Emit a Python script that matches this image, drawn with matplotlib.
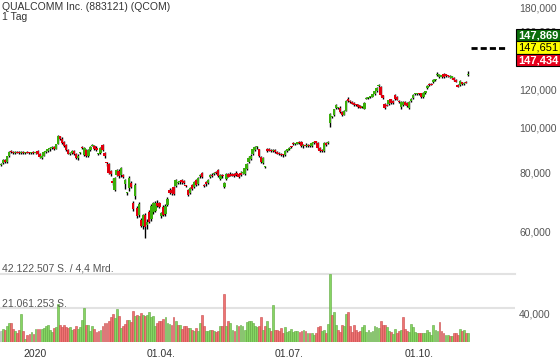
import matplotlib.pyplot as plt
import numpy as np
from matplotlib.patches import Rectangle

# QUALCOMM daily candles, Dec 2019 - Nov 2020 (price in USD, volume in million shares)
opens = [
    83.0, 83.8, 85.0, 84.2, 86.6, 88.8, 88.4, 88.0, 88.4, 88.2,
    88.0, 88.3, 88.1, 88.3, 88.2, 88.0, 88.2, 88.2, 88.9, 87.7,
    86.0, 86.9, 88.6, 89.0, 89.6, 90.1, 90.6, 90.0, 92.0, 95.5,
    94.5, 93.0, 91.4, 89.4, 87.8, 87.9, 88.8, 87.6, 85.8, 87.9,
    90.5, 87.3, 89.4, 86.8, 89.2, 91.3, 90.9, 90.4, 87.6, 88.0,
    91.4, 88.0, 84.0, 83.6, 80.8, 76.8, 73.6, 79.0, 80.8, 79.0,
    79.0, 75.6, 72.4, 74.0, 76.0, 69.0, 71.2, 67.2, 65.0, 63.4,
    61.6, 65.0, 61.8, 65.8, 63.6, 66.0, 66.3, 69.0, 68.9, 64.7,
    67.6, 65.2, 68.2, 73.4, 73.6, 74.5, 74.9, 76.0, 76.4, 77.0,
    76.6, 75.0, 73.4, 72.4, 75.3, 74.4, 77.1, 75.8, 78.6, 79.8,
    75.3, 76.4, 76.0, 78.3, 79.0, 79.4, 80.2, 81.0, 77.5, 78.6,
    74.6, 77.5, 79.6, 79.4, 79.6, 79.4, 79.8, 79.4, 80.0, 79.8,
    79.6, 81.4, 84.4, 85.6, 87.4, 89.4, 90.6, 89.6, 86.4, 84.0,
    82.2, 89.8, 89.6, 89.4, 89.0, 89.3, 88.4, 87.8, 87.4, 87.2,
    87.0, 88.9, 89.6, 90.8, 92.4, 91.8, 92.2, 93.0, 92.8, 91.0,
    91.6, 91.2, 91.6, 91.0, 92.6, 93.2, 92.6, 90.4, 89.4, 89.0,
    92.4, 92.6, 102.0, 105.0, 106.2, 109.8, 110.0, 109.8, 107.6, 106.2,
    108.2, 115.0, 113.6, 113.0, 112.4, 111.8, 111.4, 110.8, 110.2, 109.4,
    115.0, 115.4, 115.6, 116.0, 117.6, 119.4, 122.0, 121.6, 116.8, 111.8,
    111.4, 112.0, 114.6, 113.8, 117.0, 115.8, 113.6, 110.2, 111.4, 113.0,
    112.4, 110.0, 113.4, 115.2, 117.4, 117.6, 117.8, 118.0, 115.8, 118.0,
    120.8, 123.6, 123.4, 124.4, 125.8, 129.0, 127.8, 128.0, 129.8, 129.4,
    128.4, 128.6, 127.2, 127.4, 126.0, 123.0, 122.6, 124.6, 123.6, 124.6,
    129.0,
]
highs = [
    84.0, 85.3, 85.4, 86.9, 88.7, 89.4, 89.0, 88.9, 89.1, 88.7,
    88.8, 88.8, 88.6, 88.9, 88.6, 88.5, 88.7, 88.9, 89.3, 87.9,
    87.3, 89.0, 89.4, 90.0, 90.6, 91.0, 91.0, 92.2, 96.2, 95.9,
    95.0, 93.5, 91.8, 89.8, 88.4, 89.2, 89.2, 88.0, 87.4, 88.3,
    90.9, 90.6, 89.9, 89.6, 90.9, 91.9, 91.4, 90.9, 88.0, 90.6,
    92.0, 88.3, 84.4, 84.0, 81.2, 77.8, 78.2, 81.6, 81.5, 82.4,
    79.6, 77.5, 72.8, 78.6, 76.8, 69.6, 76.0, 68.0, 69.2, 64.0,
    65.4, 65.6, 63.6, 66.5, 68.6, 69.4, 69.5, 70.0, 69.3, 66.0,
    68.2, 68.6, 71.0, 74.0, 74.2, 75.0, 77.6, 76.4, 77.2, 77.6,
    77.1, 75.4, 73.9, 74.4, 75.8, 76.8, 77.5, 78.3, 79.4, 80.4,
    75.6, 76.9, 77.4, 79.6, 79.8, 80.4, 80.6, 81.6, 79.6, 79.4,
    76.4, 79.8, 80.0, 80.2, 80.0, 79.8, 80.6, 79.9, 80.8, 80.2,
    82.0, 84.0, 86.6, 87.4, 90.0, 91.3, 91.3, 90.0, 86.8, 86.4,
    82.6, 90.2, 90.4, 90.0, 89.8, 89.8, 88.9, 88.6, 88.0, 87.8,
    89.2, 90.0, 90.8, 91.0, 92.9, 92.6, 93.1, 93.4, 93.3, 92.0,
    92.4, 92.0, 92.2, 93.0, 93.6, 93.5, 93.0, 90.8, 89.8, 92.8,
    93.0, 93.4, 107.0, 105.6, 109.4, 112.2, 110.4, 110.6, 108.0, 108.8,
    114.4, 115.6, 113.9, 113.6, 112.8, 112.2, 111.8, 111.2, 110.8, 112.8,
    115.6, 115.8, 116.2, 117.8, 119.6, 121.6, 123.2, 122.0, 117.2, 112.4,
    111.8, 114.4, 115.0, 114.2, 117.6, 116.4, 114.2, 113.6, 113.4, 113.6,
    112.8, 113.6, 115.2, 117.6, 117.9, 118.2, 118.4, 118.4, 118.8, 119.6,
    122.6, 124.0, 124.0, 126.4, 126.8, 131.0, 129.4, 129.2, 130.6, 129.8,
    129.0, 129.2, 128.6, 127.8, 126.4, 123.4, 126.0, 125.0, 124.8, 125.2,
    131.4,
]
lows = [
    82.6, 83.5, 83.8, 84.0, 86.3, 88.0, 87.7, 87.6, 87.9, 87.4,
    87.6, 87.8, 87.6, 87.9, 87.7, 87.6, 87.8, 87.8, 87.5, 86.0,
    85.4, 86.6, 88.0, 88.5, 89.0, 89.6, 89.5, 89.8, 91.8, 93.9,
    92.2, 90.5, 89.0, 87.4, 87.2, 87.5, 87.3, 85.6, 85.2, 87.5,
    89.9, 86.9, 86.4, 86.3, 88.8, 90.9, 89.5, 89.0, 87.2, 87.6,
    89.0, 86.0, 82.6, 79.6, 78.8, 75.4, 73.0, 78.6, 77.8, 78.3,
    77.9, 73.8, 71.8, 73.2, 74.0, 66.2, 70.4, 64.0, 64.4, 61.2,
    60.6, 58.0, 60.6, 62.4, 63.0, 65.2, 65.8, 67.6, 67.4, 64.0,
    64.6, 64.7, 67.8, 72.0, 71.6, 71.5, 74.5, 75.6, 75.6, 75.8,
    75.8, 74.6, 71.3, 71.9, 73.4, 74.0, 75.0, 75.4, 78.0, 78.0,
    74.6, 75.0, 75.6, 77.8, 78.2, 79.0, 79.4, 78.4, 77.0, 78.0,
    74.1, 77.0, 78.2, 78.5, 78.6, 78.2, 78.6, 78.0, 78.8, 79.4,
    79.2, 81.0, 84.0, 85.2, 87.0, 89.0, 90.0, 86.4, 84.0, 83.6,
    81.8, 88.6, 88.8, 88.6, 88.4, 88.0, 87.4, 87.0, 86.8, 86.2,
    86.8, 88.6, 89.2, 90.2, 91.6, 91.4, 91.8, 92.2, 90.6, 90.4,
    90.6, 90.8, 90.6, 90.8, 92.0, 92.0, 90.0, 88.6, 88.6, 88.6,
    91.2, 92.2, 100.2, 104.6, 105.8, 109.4, 109.4, 107.2, 105.8, 106.0,
    108.0, 113.2, 112.6, 112.0, 111.0, 110.8, 110.0, 109.6, 109.6, 109.0,
    114.6, 114.8, 115.2, 115.6, 117.2, 119.0, 121.6, 116.6, 115.0, 109.4,
    110.6, 111.6, 112.0, 112.2, 114.4, 114.0, 112.6, 109.2, 110.8, 111.2,
    110.2, 109.4, 113.0, 114.8, 116.9, 117.2, 117.2, 115.4, 115.4, 117.6,
    120.4, 122.4, 122.6, 124.0, 125.2, 128.6, 127.4, 127.4, 127.4, 127.8,
    127.6, 127.4, 126.8, 125.4, 124.6, 121.4, 122.0, 123.0, 122.6, 123.8,
    128.6,
]
closes = [
    83.6, 85.0, 84.2, 86.6, 88.4, 88.3, 88.1, 88.4, 88.2, 88.0,
    88.3, 88.1, 88.3, 88.2, 88.0, 88.2, 88.1, 88.6, 87.7, 86.4,
    86.9, 88.6, 89.0, 89.6, 90.1, 90.6, 89.9, 91.9, 95.6, 94.4,
    92.6, 91.2, 89.4, 87.8, 87.9, 88.9, 87.6, 86.0, 86.9, 88.0,
    90.2, 90.2, 86.8, 89.2, 90.6, 91.5, 89.8, 89.4, 87.7, 90.2,
    89.3, 86.6, 83.8, 80.0, 79.4, 76.0, 77.7, 81.2, 78.6, 81.8,
    78.3, 77.1, 72.5, 78.0, 74.5, 66.9, 75.4, 64.5, 68.6, 61.6,
    65.0, 61.4, 62.8, 62.8, 68.0, 68.8, 69.0, 67.8, 67.7, 65.6,
    65.0, 68.0, 70.4, 72.5, 72.2, 71.9, 77.1, 76.0, 76.8, 76.2,
    76.0, 74.9, 71.7, 74.0, 73.8, 76.2, 75.3, 77.9, 78.7, 78.3,
    75.0, 75.6, 77.1, 79.2, 78.5, 80.0, 79.8, 78.7, 79.0, 78.5,
    76.0, 79.4, 78.4, 78.7, 78.8, 78.5, 78.9, 78.4, 79.2, 79.8,
    81.8, 83.6, 86.0, 86.9, 89.6, 90.8, 91.0, 86.8, 84.4, 86.0,
    82.4, 88.9, 89.1, 88.8, 89.3, 88.4, 87.8, 87.4, 87.2, 87.0,
    88.9, 89.6, 90.4, 90.6, 91.8, 92.4, 92.8, 92.6, 91.0, 91.6,
    91.2, 91.6, 91.0, 92.6, 93.0, 92.4, 90.3, 89.0, 89.0, 92.4,
    91.5, 93.0, 106.4, 105.0, 109.0, 111.4, 110.2, 107.6, 106.2, 108.4,
    113.8, 113.6, 112.8, 112.2, 111.4, 111.2, 110.4, 110.0, 110.4, 112.4,
    115.2, 115.6, 115.8, 117.4, 119.2, 121.2, 122.2, 117.0, 115.4, 109.8,
    111.0, 114.0, 112.4, 112.6, 114.8, 114.4, 113.0, 113.2, 112.8, 111.6,
    110.6, 113.2, 114.8, 117.2, 117.5, 117.8, 117.6, 115.8, 118.4, 119.2,
    122.2, 122.8, 123.0, 126.0, 126.2, 129.2, 129.0, 128.8, 127.8, 128.2,
    128.2, 127.6, 128.2, 125.8, 125.0, 121.6, 125.6, 123.4, 124.2, 124.0,
    129.2,
]
volumes = [
    6.6, 8.3, 7.6, 9.7, 11.8, 11.8, 8.3, 6.6, 5.6, 7.6,
    17.3, 7.0, 2.1, 4.5, 5.0, 6.2, 5.0, 8.3, 8.3, 8.3,
    8.3, 8.7, 9.7, 10.3, 7.6, 6.2, 8.7, 9.1, 23.5, 10.7,
    9.1, 10.7, 9.1, 8.7, 9.1, 7.6, 8.3, 9.7, 8.3, 9.1,
    13.8, 21.1, 10.7, 10.3, 7.0, 9.7, 8.3, 6.2, 6.6, 7.6,
    9.7, 11.8, 11.8, 13.2, 15.3, 17.3, 14.9, 20.6, 15.9, 8.7,
    9.7, 11.2, 13.8, 13.8, 12.4, 19.4, 15.9, 16.9, 15.9, 18.0,
    16.9, 15.9, 16.5, 18.6, 15.3, 15.9, 9.7, 11.8, 13.2, 13.2,
    14.2, 15.3, 11.8, 11.2, 10.3, 15.3, 12.8, 10.3, 10.7, 8.3,
    9.7, 9.7, 8.7, 8.7, 7.6, 7.0, 8.7, 6.6, 11.8, 16.9,
    9.7, 7.0, 7.0, 7.6, 7.6, 7.0, 6.2, 7.0, 9.7, 9.7,
    29.7, 9.7, 13.2, 11.8, 7.6, 6.6, 10.7, 9.7, 10.3, 9.7,
    7.6, 12.4, 13.2, 12.8, 11.8, 9.7, 9.1, 9.7, 15.3, 7.6,
    9.7, 12.8, 8.7, 7.0, 23.1, 7.6, 7.6, 7.0, 8.7, 5.6,
    9.1, 6.2, 6.6, 8.3, 6.2, 6.6, 7.0, 6.2, 7.0, 7.6,
    6.6, 5.6, 5.6, 5.6, 4.5, 5.6, 9.1, 9.7, 7.0, 7.6,
    5.6, 11.2, 42.122507, 16.5, 18.6, 10.3, 7.6, 6.2, 10.7, 9.7,
    17.3, 18.6, 9.7, 6.2, 10.3, 7.6, 6.2, 7.0, 9.1, 10.3,
    6.2, 7.6, 6.2, 7.0, 9.7, 9.1, 8.7, 13.2, 10.7, 10.3,
    9.1, 6.6, 6.2, 5.0, 8.3, 5.6, 6.6, 7.6, 15.3, 8.3,
    6.6, 6.2, 11.2, 9.1, 6.2, 5.6, 5.6, 5.6, 5.6, 5.6,
    7.6, 6.2, 4.5, 10.7, 7.6, 7.0, 12.4, 7.0, 5.6, 4.5,
    4.1, 3.5, 3.5, 5.6, 5.6, 4.1, 8.3, 7.0, 7.6, 5.6,
    5.6,
]

tick_pos = [17, 79, 142, 206]
tick_labels = ["2020", "01.04.", "01.07.", "01.10."]
price_ticks = [40, 60, 80, 100, 120, 160, 180]
bid_ask = [147.869, 147.651, 147.434]

GREEN, RED = "#3aae0c", "#e0000f"
VGREEN, VRED = "#86d563", "#ee7373"
VGREEN_E, VRED_E = "#5fa83f", "#c94a4a"

plt.rcParams['font.family'] = ['Liberation Sans', 'DejaVu Sans']

W, H = 560, 363
fig = plt.figure(figsize=(W / 100, H / 100), dpi=100)


def px_rect(x0, y0, x1, y1):
    # pixel box, origin top-left -> figure fraction
    return [x0 / W, 1 - y1 / H, (x1 - x0) / W, (y1 - y0) / H]


vax = fig.add_axes(px_rect(0, 274, 515, 342))
ax = fig.add_axes(px_rect(0, 0, 515, 345))
ax.patch.set_visible(False)

n = len(closes)
idx = np.arange(n)
o, hi, lo, c = map(np.array, (opens, highs, lows, closes))

# volume panel
v = np.array(volumes)
prev = np.r_[c[0], c[:-1]]
vup = c >= prev
vcol = np.where(vup, VGREEN, VRED).astype(object)
vedge = np.where(vup, VGREEN_E, VRED_E).astype(object)
vcol[0], vedge[0] = "#c8c8c8", "#aaaaaa"
vax.bar(idx, v, width=0.9, color=vcol, edgecolor=vedge, linewidth=0.4, zorder=2)
vmax = v.max()
vax.axhline(vmax / 2, color="#e2e2e2", lw=1.5, zorder=1)
vax.axhline(vmax, color="#e2e2e2", lw=1.5, zorder=1, clip_on=False)
vax.set_xlim(-0.5, 253.2)
vax.set_ylim(0, vmax)
vax.axis("off")

fmt_de = lambda x: f"{int(x):,}".replace(",", ".")
fig.text(2 / W, 1 - 268.5 / H, f"{fmt_de(vmax * 1e6)} S. / 4,4 Mrd.",
         fontsize=7.5, color="#555555", va="center")
fig.text(2 / W, 1 - 304 / H, f"{fmt_de(vmax * 1e6 / 2)} S.",
         fontsize=7.5, color="#555555", va="center")

# candles
up = c >= o
body_lo = np.minimum(o, c)
body_h = np.maximum(np.abs(c - o), 0.005 * body_lo)
ax.vlines(idx, lo, hi, color="black", lw=1.0, zorder=2)
ax.bar(idx, body_h, bottom=body_lo, width=1.25,
       color=np.where(up, GREEN, RED), linewidth=0, zorder=3)

ax.set_yscale("log")
ax.set_ylim(34.35, 186.4)
ax.set_xlim(-0.5, 253.2)
ax.yaxis.tick_right()
ax.set_yticks(price_ticks)
ax.set_yticklabels([f"{p:.3f}".replace(".", ",") for p in price_ticks])
ax.yaxis.set_minor_locator(plt.NullLocator())
ax.set_xticks(tick_pos)
ax.set_xticklabels(tick_labels)
ax.tick_params(axis="y", length=0, pad=3, labelsize=7.5, labelcolor="#555555")
ax.tick_params(axis="x", length=0, pad=3, labelsize=7.5, labelcolor="#333333")
for s in ax.spines.values():
    s.set_visible(False)

# bid / ask marker
ax.plot([231.5, 248.2], [bid_ask[1]] * 2, color="black", lw=2,
        ls=(0, (2.2, 1.1)), zorder=4)
y_mid = ax.transData.transform((0, bid_ask[1]))[1]
box_h = 12.5
styles = [("#0b6e0b", "white", "bold"), ("#ffff00", "black", "normal"),
          ("#e8001c", "white", "bold")]
for k, (val, (fc, tc, fw)) in enumerate(zip(bid_ask, styles)):
    yc = y_mid + (1 - k) * box_h
    fig.add_artist(Rectangle((516 / W, (yc - box_h / 2) / H), 44 / W, box_h / H,
                             transform=fig.transFigure, facecolor=fc,
                             edgecolor="black", lw=0.8, zorder=10))
    fig.text(518 / W, yc / H, f"{val:.3f}".replace(".", ","), fontsize=8,
             color=tc, fontweight=fw, va="center", zorder=11)

fig.text(2 / W, 1 - 6.5 / H, "QUALCOMM Inc. (883121) (QCOM)",
         fontsize=7.5, color="#333333", va="center")
fig.text(2 / W, 1 - 16.5 / H, "1 Tag", fontsize=7.5, color="#333333", va="center")

fig.savefig("out.png", dpi=100)
